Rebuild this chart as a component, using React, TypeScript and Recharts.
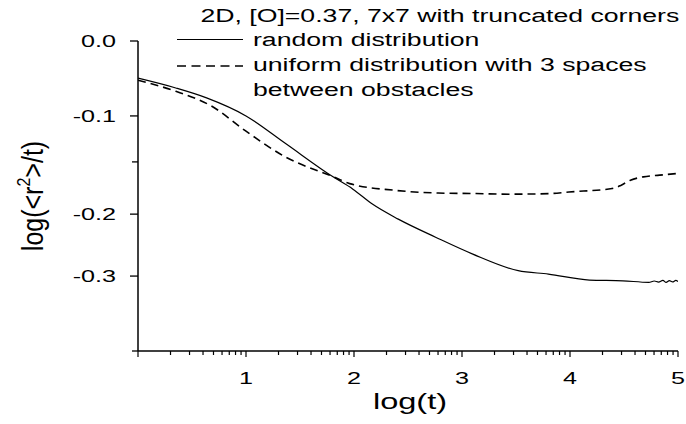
import React from 'react';
import { LineChart, Line, XAxis, YAxis } from 'recharts';

const TITLE = '2D, [O]=0.37, 7x7 with truncated corners';
const LEGEND_LINES = ['random distribution', 'uniform distribution with 3 spaces', 'between obstacles'];
const X_LABEL = 'log(t)';

// random distribution (solid)
const randomLogT = [0, 0.35, 0.635, 1.0, 1.36, 1.806, 1.99, 2.17, 2.41, 2.76, 3.1, 3.52, 3.8, 4.18, 4.49, 4.73, 4.78, 4.82, 4.86, 4.89, 4.92, 4.95, 4.98, 5.0];
const randomValues = [-0.0496, -0.0627, -0.0759, -0.1, -0.1295, -0.1643, -0.1761, -0.1904, -0.2081, -0.2376, -0.2645, -0.2913, -0.2968, -0.3053, -0.3063, -0.3084, -0.3066, -0.308, -0.3057, -0.3085, -0.3062, -0.3078, -0.3058, -0.3072];

// uniform distribution with 3 spaces between obstacles (dashed)
const uniformLogT = [0, 0.35, 0.68, 1.0, 1.36, 1.81, 1.96, 2.37, 2.78, 3.13, 3.44, 3.8, 3.99, 4.39, 4.47, 4.56, 4.68, 4.83, 5.0];
const uniformValues = [-0.0524, -0.0671, -0.0868, -0.1166, -0.1443, -0.1643, -0.1708, -0.1771, -0.1798, -0.1803, -0.1809, -0.1804, -0.1788, -0.1755, -0.1725, -0.1675, -0.1643, -0.1627, -0.161];

const xMajorTicks = [0, 1, 2, 3, 4, 5];
const xMinorFactors = [2, 3, 4, 5, 6, 7, 8, 9];
const yMajorTicks = [0, -0.1, -0.2, -0.3];
const yMinorTicks = [-0.15, -0.4];

// The reference's y axis is not evenly spaced: knot values and their relative positions
const Y_KNOT_VALUES = [-0.4, -0.3, -0.2, -0.15, -0.1, 0];
const Y_KNOT_FRACTIONS = [0, 0.2417, 0.4415, 0.61, 0.7583, 1];

const randomData = randomLogT.map((t, i) => ({ t, v: randomValues[i] }));
const uniformData = uniformLogT.map((t, i) => ({ t, v: uniformValues[i] }));

const xTicks: number[] = [];
xMajorTicks.forEach((m) => {
  xTicks.push(m);
  if (m < xMajorTicks[xMajorTicks.length - 1]) {
    xMinorFactors.forEach((f) => xTicks.push(m + Math.log10(f)));
  }
});
const yTicks = [...yMajorTicks, ...yMinorTicks].sort((a, b) => b - a);

function interp(v: number, from: number[], to: number[]) {
  const n = from.length;
  let i = 0;
  if (v <= from[0]) i = 0;
  else if (v >= from[n - 1]) i = n - 2;
  else {
    while (i < n - 2 && v > from[i + 1]) i++;
  }
  const t = (v - from[i]) / (from[i + 1] - from[i]);
  return to[i] + t * (to[i + 1] - to[i]);
}

function makeKnotScale(): any {
  let dom = [Y_KNOT_VALUES[0], Y_KNOT_VALUES[Y_KNOT_VALUES.length - 1]];
  let rng = [0, 1];
  const scale: any = (v: any) => {
    const f = interp(Number(v), Y_KNOT_VALUES, Y_KNOT_FRACTIONS);
    return rng[0] + f * (rng[1] - rng[0]);
  };
  scale.domain = (d?: any) => {
    if (d === undefined) return dom.slice();
    dom = Array.from(d);
    return scale;
  };
  scale.range = (r?: any) => {
    if (r === undefined) return rng.slice();
    rng = Array.from(r);
    return scale;
  };
  scale.rangeRound = (r: any) => scale.range(r);
  scale.copy = () => makeKnotScale().domain(dom).range(rng);
  scale.ticks = () => yTicks.slice();
  scale.tickFormat = () => (v: any) => String(v);
  scale.invert = (p: number) => {
    const f = (p - rng[0]) / (rng[1] - rng[0]);
    return interp(f, Y_KNOT_FRACTIONS, Y_KNOT_VALUES);
  };
  scale.clamp = () => scale;
  scale.nice = () => scale;
  scale.unknown = () => scale;
  scale.interpolate = () => scale;
  return scale;
}

const yScale = makeKnotScale();

const FONT = 'Liberation Sans, Arial, Helvetica, sans-serif';
const SX = 1.48;

const XTick = (props: any) => {
  const { x, y, payload } = props;
  const v = payload.value;
  const major = Math.abs(v - Math.round(v)) < 1e-9;
  return (
    <g>
      <line x1={x} x2={x} y1={y} y2={y + (major ? 6 : 4)} stroke="#000" strokeWidth={1.2} />
      {major && v !== 0 && (
        <text
          x={0}
          y={0}
          transform={`translate(${x},${y + 33}) scale(${SX},1)`}
          textAnchor="middle"
          fontSize={17}
          fontFamily={FONT}
          fill="#000"
        >
          {String(Math.round(v))}
        </text>
      )}
    </g>
  );
};

const YTick = (props: any) => {
  const { x, y, payload } = props;
  const v = payload.value;
  const major = yMajorTicks.some((m) => Math.abs(m - v) < 1e-9);
  return (
    <g>
      <line x1={x - (major ? 8 : 6)} x2={x} y1={y} y2={y} stroke="#000" strokeWidth={1.3} />
      {major && (
        <text
          x={0}
          y={0}
          transform={`translate(${x - 22},${y + 6}) scale(${SX},1)`}
          textAnchor="end"
          fontSize={17}
          fontFamily={FONT}
          fill="#000"
        >
          {v.toFixed(1)}
        </text>
      )}
    </g>
  );
};

export default function App() {
  return (
    <div style={{ position: 'absolute', left: 0, top: 0, width: 686, height: 424, background: '#fff' }}>
      <LineChart width={686} height={424} margin={{ top: 41, right: 8, left: 0, bottom: 0 }}>
        <XAxis
          dataKey="t"
          type="number"
          domain={[0, 5]}
          ticks={xTicks}
          interval={0}
          tick={XTick}
          tickLine={false}
          tickSize={0}
          tickMargin={0}
          height={73}
          axisLine={{ stroke: '#000', strokeWidth: 1.5 }}
          allowDataOverflow
        />
        <YAxis
          type="number"
          domain={[-0.4, 0]}
          scale={yScale}
          ticks={yTicks}
          interval={0}
          tick={YTick}
          tickLine={false}
          tickSize={0}
          tickMargin={0}
          width={138}
          axisLine={{ stroke: '#000', strokeWidth: 1.5 }}
          allowDataOverflow
        />
        <Line
          data={randomData}
          dataKey="v"
          type="monotone"
          stroke="#000"
          strokeWidth={1.2}
          dot={false}
          isAnimationActive={false}
        />
        <Line
          data={uniformData}
          dataKey="v"
          type="monotone"
          stroke="#000"
          strokeWidth={1.6}
          strokeDasharray="8 5"
          dot={false}
          isAnimationActive={false}
        />
      </LineChart>
      <svg
        width={686}
        height={424}
        style={{ position: 'absolute', left: 0, top: 0, pointerEvents: 'none' }}
        fontFamily={FONT}
        fill="#000"
      >
        <text transform={`translate(200.5,21.5) scale(${SX},1)`} fontSize={18}>
          {TITLE}
        </text>
        <line x1={177} x2={243} y1={39.5} y2={39.5} stroke="#000" strokeWidth={1.2} />
        <text transform={`translate(253,45.5) scale(${SX},1)`} fontSize={18}>
          {LEGEND_LINES[0]}
        </text>
        <line x1={177} x2={243} y1={66} y2={66} stroke="#000" strokeWidth={1.4} strokeDasharray="9 5.5" />
        <text transform={`translate(253,71) scale(${SX},1)`} fontSize={18}>
          {LEGEND_LINES[1]}
        </text>
        <text transform={`translate(253,96) scale(${SX},1)`} fontSize={18}>
          {LEGEND_LINES[2]}
        </text>
        <text transform={`translate(410,409) scale(${SX},1)`} fontSize={22} textAnchor="middle">
          {X_LABEL}
        </text>
        <text transform="translate(43,196) scale(1.15,1) rotate(-90)" fontSize={25} textAnchor="middle">
          log(&lt;r
          <tspan dy={-11} fontSize={16}>
            2
          </tspan>
          <tspan dy={11}>&gt;/t)</tspan>
        </text>
      </svg>
    </div>
  );
}
